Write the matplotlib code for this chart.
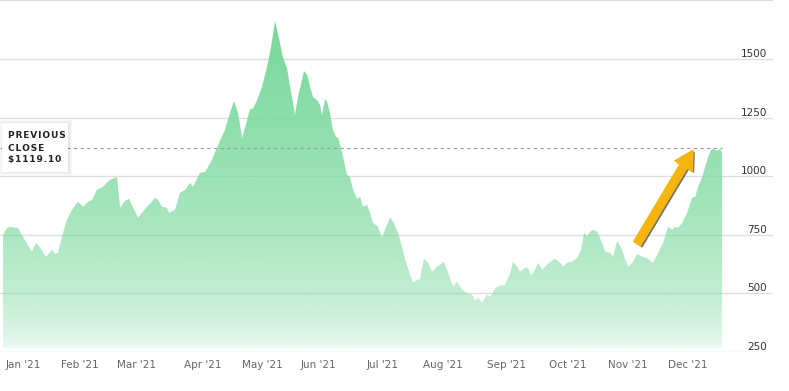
import numpy as np
import matplotlib
matplotlib.use("Agg")
import matplotlib.pyplot as plt
from matplotlib.patches import Polygon, FancyArrowPatch, Rectangle, ArrowStyle
from matplotlib import patheffects
import matplotlib.transforms as mtransforms

# ---- data (trading-day index, close) ----
day = [0, 1.4, 2.4, 4.2, 5.2, 6.9, 10.0, 11.4, 12.8, 14.9, 16.9, 18.0, 19.0, 20.8, 22.1,
       23.9, 25.9, 27.7, 29.4, 30.8, 32.5, 34.6, 37.0, 39.4, 40.5, 42.2, 43.6, 45.0, 46.7,
       48.1, 49.8, 50.8, 52.6, 53.6, 55.0, 56.7, 57.4, 59.5, 61.2, 63.0, 64.7, 65.7, 68.1,
       69.9, 72.3, 74.4, 76.8, 78.5, 79.9, 81.3, 82.7, 84.1, 85.4, 86.5, 87.9, 89.6, 91.3,
       92.7, 94.1, 95.8, 96.9, 98.2, 99.3, 100.3, 101.0, 102.0, 103.4, 104.1, 105.2, 106.2,
       107.2, 108.6, 109.7, 110.3, 111.4, 112.1, 113.1, 114.1, 115.2, 115.9, 117.3, 119.0,
       120.0, 121.1, 122.4, 123.5, 124.5, 125.9, 126.9, 128.0, 129.7, 131.1, 132.1, 133.9,
       134.9, 136.6, 138.0, 139.1, 140.8, 141.8, 143.2, 144.2, 145.6, 147.0, 148.4, 150.1,
       151.2, 152.5, 153.9, 155.7, 157.0, 158.8, 160.5, 162.2, 163.3, 164.3, 165.7, 167.4,
       168.5, 170.2, 171.9, 173.6, 175.4, 176.4, 177.8, 178.8, 180.6, 181.6, 182.6, 184.0,
       185.1, 186.5, 188.2, 189.9, 190.9, 192.7, 193.7, 195.1, 196.8, 198.6, 199.9, 201.0,
       202.0, 203.0, 204.1, 205.5, 207.2, 208.2, 210.0, 211.0, 212.4, 214.1, 215.2, 216.2,
       218.0, 219.3, 221.1, 222.8, 224.8, 226.6, 228.3, 230.0, 231.4, 232.4, 233.5, 234.9,
       236.6, 238.3, 239.4, 240.4, 241.8, 242.8, 243.9, 244.9, 245.6, 247.0, 248.0, 248.7]
close = [750, 780, 784, 780, 780, 742, 678, 716, 695, 656, 686, 669, 673, 759, 814,
         857, 891, 870, 891, 899, 942, 955, 985, 997, 865, 895, 904, 865, 823,
         844, 870, 882, 908, 899, 870, 865, 844, 857, 929, 942, 972, 955, 1014,
         1019, 1070, 1134, 1198, 1270, 1321, 1270, 1163, 1227, 1285, 1290, 1325, 1381, 1466,
         1551, 1662, 1568, 1504, 1462, 1381, 1313, 1261, 1338, 1411, 1449, 1432, 1381,
         1338, 1325, 1304, 1261, 1330, 1317, 1270, 1198, 1168, 1164, 1100, 1006,
         997, 942, 904, 912, 870, 878, 844, 801, 784, 737, 772, 823,
         806, 759, 699, 644, 580, 546, 559, 559, 648, 631, 593, 614,
         623, 635, 588, 529, 550, 516, 503, 495, 469, 482, 461, 495,
         486, 524, 533, 537, 585, 635, 614, 593, 610, 610, 576, 601,
         631, 601, 623, 640, 648, 631, 614, 631, 635, 652, 686, 759,
         742, 763, 772, 763, 716, 678, 673, 656, 725, 686, 644, 614,
         635, 669, 656, 650, 631, 673, 716, 784, 772, 784, 780, 801,
         844, 908, 912, 955, 997, 1040, 1083, 1112, 1117, 1108, 1117, 1100]

month_pos = [6.9, 26.6, 46.3, 69.2, 89.6, 109.0, 131.4, 152.2, 174.3, 195.4, 216.2, 236.9]
month_labels = ["Jan '21", "Feb '21", "Mar '21", "Apr '21", "May '21", "Jun '21",
                "Jul '21", "Aug '21", "Sep '21", "Oct '21", "Nov '21", "Dec '21"]
y_ticks = [250, 500, 750, 1000, 1250, 1500, 1750]
y_labels = ["250", "500", "750", "1000", "1250", "1500", ""]
prev_close = 1119.10
arrow_from = (219.3, 712)
arrow_to = (238.7, 1112)

W, H = 789, 391
fig = plt.figure(figsize=(W / 100, H / 100), dpi=100)
ax = fig.add_axes([0, (H - 352) / H, 773 / W, 352 / H])
ax.set_xlim(-1.04, 266.3)
ax.set_ylim(250, 1752)
for s in ax.spines.values():
    s.set_visible(False)

# grid
ax.set_yticks(y_ticks)
ax.tick_params(axis='y', length=0, labelleft=False, labelright=False)
ax.yaxis.grid(True, color='#dedede', lw=0.9)
ax.set_axisbelow(True)

# x ticks
ax.set_xticks(month_pos, month_labels)
ax.tick_params(axis='x', length=0, pad=6, labelsize=7.5, labelcolor='#666666')

# y labels inside on right
ytrans = mtransforms.offset_copy(ax.get_yaxis_transform(), fig=fig, x=0, y=2, units='dots')
for v, lab in zip(y_ticks, y_labels):
    ax.text(767 / 773, v, lab, transform=ytrans, ha='right', va='baseline',
            fontsize=7.5, color='#333333')

# gradient area
d = np.asarray(day, float)
c = np.asarray(close, float)
base = 262
verts = np.vstack([np.column_stack([d, c]), [[d[-1], base], [d[0], base]]])
poly = Polygon(verts, closed=True, facecolor='none', edgecolor='none')
ax.add_patch(poly)
top = c.max()
n = 256
t = np.linspace(0, 1, n)[:, None]  # 0 bottom, 1 top
alpha = 0.06 + 0.94 * np.sqrt(t)
rgb = np.array([120, 216, 155]) / 255.0
img = np.ones((n, 2, 4))
img[..., :3] = rgb
img[..., 3] = np.repeat(alpha, 2, axis=1)
im = ax.imshow(img, extent=(d[0], d[-1], base, top), origin='lower', aspect='auto',
               interpolation='bilinear', zorder=2)
im.set_clip_path(poly)

# previous close dashed line
ax.plot([-1.04, d[-1]], [prev_close, prev_close], color='#9a9a9a', lw=0.8,
        dashes=(3, 3), zorder=3)

# arrow
arr = FancyArrowPatch(arrow_from, arrow_to,
                      arrowstyle=ArrowStyle.Simple(head_length=1.35, head_width=1.5, tail_width=0.6),
                      mutation_scale=10, color='#F5B50C', lw=0.8, joinstyle='round',
                      capstyle='round', shrinkA=0, shrinkB=0, zorder=5)
arr.set_path_effects([patheffects.SimplePatchShadow(offset=(1.2, -1.2), shadow_rgbFace='black', alpha=0.55),
                      patheffects.Normal()])
ax.add_patch(arr)

# previous close box
bx0, bx1, by0, by1 = 2, 68, 123, 172
for k, a in [(4, 0.012), (3, 0.018), (2, 0.025), (1, 0.035)]:
    fig.add_artist(Rectangle(((bx0 - k + 1) / W, (H - by1 - k) / H), (bx1 - bx0 + 2 * k) / W,
                             (by1 - by0 + 2 * k) / H, transform=fig.transFigure,
                             facecolor='black', alpha=a, edgecolor='none', zorder=6))
fig.add_artist(Rectangle((bx0 / W, (H - by1) / H), (bx1 - bx0) / W, (by1 - by0) / H,
                         transform=fig.transFigure, facecolor='white', edgecolor='none', zorder=7))
hs = "\u200a"
for txt, yy in [("PREVIOUS", 136), ("CLOSE", 148), ("$1119.10", 160)]:
    fig.text(8 / W, 1 - yy / H, hs.join(txt), fontsize=6.5, fontweight='bold', color='#222222',
             ha='left', va='center', zorder=8)

fig.savefig("out.png", dpi=100)
